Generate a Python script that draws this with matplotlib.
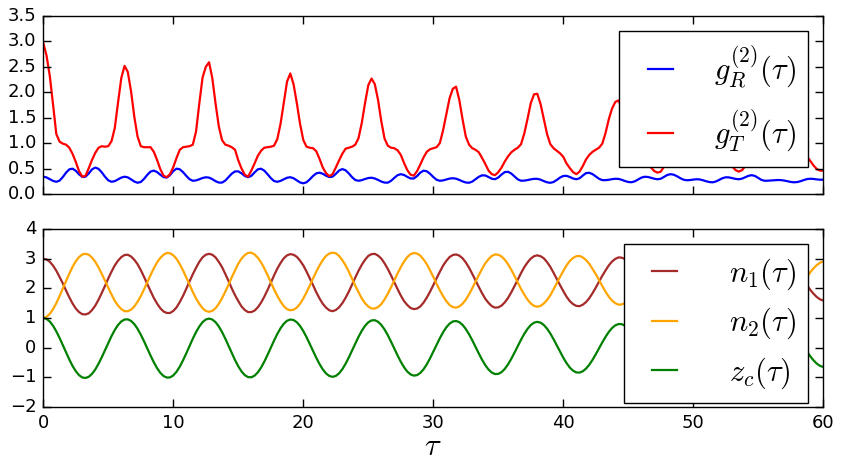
import numpy as np
import matplotlib
matplotlib.use('Agg')
import matplotlib.pyplot as plt
from matplotlib.lines import Line2D
from matplotlib.legend_handler import HandlerLine2D

plt.style.use('classic')
plt.rcParams['mathtext.fontset'] = 'cm'
plt.rcParams['font.family'] = ['DejaVu Sans']

# ── Data (tau step 0.25) ────────────────────────────────────────────────────
tau = np.linspace(0, 60, 241)

g_T = [
    2.97, 2.72, 2.32, 1.76, 1.18, 1.03, 0.99, 0.97, 0.91, 0.79, 0.63, 0.45, 0.34, 0.36, 0.51, 0.67, 0.81, 0.91, 0.94, 0.93,
    0.94, 1.04, 1.30, 1.80, 2.28, 2.52, 2.40, 2.02, 1.52, 1.13, 0.94, 0.92, 0.92, 0.92, 0.83, 0.67, 0.49, 0.36, 0.33, 0.39,
    0.53, 0.71, 0.87, 0.92, 0.93, 0.94, 0.97, 1.23, 1.78, 2.29, 2.50, 2.59, 2.28, 1.78, 1.33, 1.06, 0.97, 0.95, 0.92, 0.87,
    0.66, 0.50, 0.38, 0.34, 0.46, 0.60, 0.75, 0.85, 0.91, 0.92, 0.93, 0.95, 1.08, 1.38, 1.79, 2.21, 2.37, 2.16, 1.79, 1.38,
    1.06, 0.93, 0.91, 0.90, 0.84, 0.69, 0.52, 0.41, 0.35, 0.39, 0.52, 0.66, 0.79, 0.89, 0.91, 0.93, 0.97, 1.10, 1.40, 1.79,
    2.14, 2.27, 2.16, 1.85, 1.43, 1.09, 0.95, 0.91, 0.90, 0.86, 0.77, 0.61, 0.47, 0.38, 0.36, 0.45, 0.58, 0.72, 0.83, 0.88,
    0.90, 0.92, 1.00, 1.25, 1.57, 1.88, 2.07, 2.11, 1.85, 1.47, 1.13, 0.97, 0.90, 0.87, 0.82, 0.71, 0.59, 0.46, 0.39, 0.37,
    0.43, 0.52, 0.64, 0.74, 0.82, 0.87, 0.91, 0.98, 1.19, 1.48, 1.79, 1.96, 1.97, 1.77, 1.47, 1.18, 0.98, 0.90, 0.85, 0.80,
    0.73, 0.60, 0.51, 0.43, 0.39, 0.44, 0.55, 0.68, 0.77, 0.83, 0.87, 0.91, 0.99, 1.20, 1.47, 1.68, 1.81, 1.84, 1.70, 1.42,
    1.15, 0.96, 0.88, 0.84, 0.78, 0.70, 0.62, 0.52, 0.45, 0.42, 0.44, 0.54, 0.64, 0.74, 0.82, 0.86, 0.89, 0.96, 1.15, 1.40,
    1.60, 1.72, 1.74, 1.62, 1.38, 1.13, 0.96, 0.88, 0.84, 0.78, 0.71, 0.64, 0.54, 0.47, 0.44, 0.47, 0.55, 0.64, 0.73, 0.80,
    0.85, 0.88, 0.94, 1.10, 1.32, 1.50, 1.60, 1.63, 1.58, 1.40, 1.18, 0.99, 0.89, 0.85, 0.80, 0.73, 0.65, 0.56, 0.49, 0.46,
    0.46,
]

g_R = [
    0.340, 0.326, 0.292, 0.257, 0.240, 0.263, 0.333, 0.420, 0.485, 0.498, 0.456, 0.387, 0.337, 0.340, 0.405, 0.485, 0.520, 0.494, 0.425, 0.339,
    0.268, 0.240, 0.253, 0.287, 0.322, 0.340, 0.327, 0.288, 0.245, 0.221, 0.236, 0.297, 0.377, 0.441, 0.460, 0.432, 0.379, 0.333, 0.322, 0.372,
    0.451, 0.499, 0.485, 0.430, 0.356, 0.291, 0.260, 0.267, 0.289, 0.315, 0.329, 0.322, 0.292, 0.252, 0.225, 0.224, 0.264, 0.332, 0.401, 0.444,
    0.445, 0.406, 0.355, 0.330, 0.356, 0.424, 0.485, 0.497, 0.460, 0.389, 0.313, 0.255, 0.240, 0.258, 0.290, 0.320, 0.330, 0.310, 0.268, 0.227,
    0.210, 0.231, 0.288, 0.355, 0.406, 0.419, 0.398, 0.360, 0.333, 0.341, 0.396, 0.461, 0.490, 0.467, 0.405, 0.331, 0.275, 0.260, 0.272, 0.295,
    0.314, 0.320, 0.305, 0.277, 0.245, 0.224, 0.223, 0.259, 0.317, 0.370, 0.390, 0.374, 0.337, 0.306, 0.305, 0.352, 0.420, 0.459, 0.447, 0.398,
    0.334, 0.280, 0.260, 0.267, 0.285, 0.303, 0.310, 0.301, 0.277, 0.248, 0.226, 0.221, 0.244, 0.290, 0.338, 0.367, 0.364, 0.334, 0.300, 0.291,
    0.324, 0.383, 0.431, 0.437, 0.402, 0.344, 0.288, 0.261, 0.263, 0.274, 0.288, 0.298, 0.298, 0.282, 0.254, 0.230, 0.220, 0.236, 0.277, 0.324,
    0.355, 0.357, 0.335, 0.305, 0.290, 0.309, 0.363, 0.411, 0.417, 0.391, 0.345, 0.299, 0.273, 0.272, 0.280, 0.292, 0.299, 0.297, 0.279, 0.255,
    0.236, 0.231, 0.249, 0.285, 0.321, 0.339, 0.335, 0.319, 0.300, 0.290, 0.300, 0.336, 0.374, 0.390, 0.379, 0.349, 0.311, 0.281, 0.270, 0.274,
    0.284, 0.290, 0.286, 0.270, 0.250, 0.234, 0.230, 0.247, 0.279, 0.311, 0.329, 0.326, 0.312, 0.297, 0.290, 0.302, 0.330, 0.358, 0.370, 0.354,
    0.315, 0.276, 0.260, 0.262, 0.267, 0.272, 0.275, 0.273, 0.264, 0.250, 0.237, 0.230, 0.235, 0.252, 0.274, 0.293, 0.300, 0.296, 0.287, 0.281,
    0.281,
]

n_1 = [
    3.00, 2.98, 2.90, 2.77, 2.60, 2.39, 2.17, 1.93, 1.70, 1.49, 1.32, 1.20, 1.13, 1.12, 1.16, 1.27, 1.42, 1.62, 1.85, 2.09,
    2.34, 2.57, 2.78, 2.94, 3.06, 3.13, 3.14, 3.08, 2.97, 2.82, 2.62, 2.39, 2.15, 1.91, 1.68, 1.49, 1.33, 1.22, 1.17, 1.17,
    1.24, 1.36, 1.54, 1.75, 1.99, 2.24, 2.48, 2.70, 2.90, 3.05, 3.14, 3.17, 3.14, 3.05, 2.90, 2.72, 2.49, 2.25, 2.00, 1.77,
    1.57, 1.39, 1.27, 1.20, 1.20, 1.25, 1.36, 1.52, 1.72, 1.95, 2.19, 2.44, 2.67, 2.86, 3.02, 3.12, 3.16, 3.14, 3.07, 2.94,
    2.78, 2.57, 2.34, 2.11, 1.87, 1.66, 1.48, 1.35, 1.26, 1.23, 1.27, 1.36, 1.50, 1.68, 1.89, 2.13, 2.37, 2.60, 2.80, 2.97,
    3.10, 3.16, 3.17, 3.11, 3.01, 2.85, 2.66, 2.44, 2.21, 1.98, 1.76, 1.57, 1.44, 1.34, 1.30, 1.32, 1.39, 1.52, 1.69, 1.89,
    2.11, 2.34, 2.56, 2.77, 2.93, 3.06, 3.13, 3.15, 3.11, 3.02, 2.88, 2.70, 2.49, 2.27, 2.05, 1.84, 1.65, 1.51, 1.40, 1.35,
    1.36, 1.42, 1.53, 1.68, 1.87, 2.08, 2.30, 2.52, 2.72, 2.88, 3.01, 3.09, 3.12, 3.09, 3.02, 2.89, 2.73, 2.53, 2.32, 2.11,
    1.91, 1.72, 1.57, 1.47, 1.41, 1.40, 1.45, 1.54, 1.67, 1.84, 2.03, 2.23, 2.43, 2.61, 2.78, 2.91, 3.00, 3.05, 3.04, 2.99,
    2.89, 2.75, 2.59, 2.40, 2.20, 2.01, 1.83, 1.68, 1.57, 1.49, 1.47, 1.49, 1.56, 1.67, 1.82, 1.99, 2.17, 2.36, 2.54, 2.70,
    2.84, 2.93, 2.98, 2.99, 2.95, 2.86, 2.74, 2.59, 2.42, 2.24, 2.06, 1.90, 1.75, 1.64, 1.56, 1.53, 1.54, 1.60, 1.69, 1.82,
    1.97, 2.14, 2.32, 2.49, 2.64, 2.77, 2.86, 2.92, 2.93, 2.90, 2.83, 2.73, 2.60, 2.44, 2.28, 2.11, 1.95, 1.82, 1.71, 1.63,
    1.59,
]

n_2 = [
    1.00, 1.04, 1.14, 1.30, 1.50, 1.74, 2.00, 2.25, 2.50, 2.73, 2.92, 3.06, 3.15, 3.17, 3.14, 3.04, 2.90, 2.71, 2.49, 2.26,
    2.02, 1.79, 1.58, 1.42, 1.30, 1.23, 1.23, 1.28, 1.39, 1.55, 1.74, 1.97, 2.21, 2.45, 2.68, 2.88, 3.03, 3.14, 3.20, 3.19,
    3.12, 3.00, 2.82, 2.61, 2.37, 2.13, 1.88, 1.66, 1.48, 1.33, 1.24, 1.21, 1.24, 1.33, 1.48, 1.67, 1.89, 2.13, 2.38, 2.61,
    2.84, 3.01, 3.13, 3.20, 3.21, 3.15, 3.04, 2.88, 2.68, 2.45, 2.21, 1.97, 1.75, 1.56, 1.40, 1.30, 1.26, 1.28, 1.35, 1.48,
    1.66, 1.87, 2.10, 2.34, 2.57, 2.78, 2.96, 3.10, 3.18, 3.21, 3.19, 3.10, 2.96, 2.78, 2.57, 2.33, 2.09, 1.87, 1.66, 1.50,
    1.39, 1.32, 1.32, 1.37, 1.47, 1.63, 1.82, 2.04, 2.27, 2.51, 2.72, 2.91, 3.06, 3.16, 3.20, 3.18, 3.11, 2.98, 2.82, 2.61,
    2.39, 2.16, 1.94, 1.74, 1.57, 1.44, 1.37, 1.35, 1.39, 1.48, 1.62, 1.80, 2.01, 2.23, 2.45, 2.66, 2.85, 2.99, 3.10, 3.15,
    3.14, 3.08, 2.97, 2.82, 2.63, 2.42, 2.20, 1.98, 1.79, 1.62, 1.49, 1.41, 1.38, 1.41, 1.49, 1.61, 1.77, 1.97, 2.18, 2.39,
    2.59, 2.78, 2.93, 3.03, 3.09, 3.10, 3.05, 2.96, 2.83, 2.66, 2.48, 2.28, 2.08, 1.89, 1.72, 1.59, 1.50, 1.45, 1.46, 1.51,
    1.61, 1.75, 1.92, 2.10, 2.30, 2.49, 2.67, 2.82, 2.93, 3.01, 3.03, 3.01, 2.94, 2.83, 2.68, 2.51, 2.33, 2.14, 1.96, 1.80,
    1.66, 1.57, 1.52, 1.51, 1.55, 1.64, 1.76, 1.91, 2.08, 2.26, 2.44, 2.61, 2.75, 2.86, 2.94, 2.97, 2.96, 2.90, 2.81, 2.68,
    2.53, 2.36, 2.18, 2.01, 1.86, 1.73, 1.64, 1.58, 1.57, 1.60, 1.67, 1.77, 1.91, 2.06, 2.22, 2.39, 2.55, 2.68, 2.79, 2.87,
    2.91,
]

z_c = [
    1.000, 0.970, 0.880, 0.737, 0.549, 0.327, 0.085, -0.164, -0.403, -0.620, -0.800, -0.933, -1.011, -1.029, -0.987, -0.888, -0.739, -0.547, -0.324, -0.084,
    0.159, 0.390, 0.596, 0.764, 0.884, 0.949, 0.955, 0.902, 0.793, 0.635, 0.437, 0.211, -0.030, -0.271, -0.497, -0.695, -0.853, -0.962, -1.015, -1.009,
    -0.942, -0.817, -0.644, -0.431, -0.194, 0.055, 0.299, 0.523, 0.712, 0.859, 0.949, 0.980, 0.949, 0.859, 0.714, 0.525, 0.302, 0.059, -0.188, -0.424,
    -0.635, -0.808, -0.932, -0.999, -1.005, -0.951, -0.840, -0.678, -0.477, -0.248, -0.006, 0.235, 0.460, 0.654, 0.806, 0.907, 0.949, 0.931, 0.857, 0.730,
    0.558, 0.351, 0.122, -0.115, -0.347, -0.559, -0.739, -0.875, -0.961, -0.990, -0.960, -0.873, -0.734, -0.551, -0.336, -0.102, 0.137, 0.365, 0.569, 0.735,
    0.855, 0.919, 0.925, 0.873, 0.767, 0.612, 0.419, 0.199, -0.033, -0.265, -0.480, -0.666, -0.812, -0.908, -0.949, -0.932, -0.858, -0.734, -0.565, -0.363,
    -0.140, 0.090, 0.313, 0.515, 0.684, 0.808, 0.882, 0.899, 0.860, 0.768, 0.628, 0.450, 0.244, 0.022, -0.200, -0.411, -0.596, -0.744, -0.846, -0.896,
    -0.890, -0.831, -0.720, -0.567, -0.379, -0.169, 0.051, 0.267, 0.465, 0.632, 0.763, 0.843, 0.870, 0.843, 0.765, 0.640, 0.477, 0.284, 0.074, -0.139,
    -0.344, -0.526, -0.676, -0.782, -0.840, -0.846, -0.802, -0.711, -0.579, -0.414, -0.225, -0.025, 0.175, 0.364, 0.529, 0.661, 0.752, 0.796, 0.791, 0.738,
    0.640, 0.503, 0.335, 0.147, -0.049, -0.242, -0.419, -0.568, -0.684, -0.756, -0.780, -0.757, -0.687, -0.577, -0.432, -0.262, -0.077, 0.112, 0.293, 0.454,
    0.586, 0.680, 0.731, 0.736, 0.696, 0.613, 0.493, 0.343, 0.172, -0.008, -0.188, -0.355, -0.500, -0.613, -0.688, -0.719, -0.706, -0.651, -0.556, -0.429,
    -0.276, -0.107, 0.067, 0.236, 0.389, 0.516, 0.611, 0.666, 0.679, 0.650, 0.582, 0.478, 0.345, 0.191, 0.027, -0.139, -0.296, -0.433, -0.544, -0.620,
    -0.657,
]

# ── Figure ───────────────────────────────────────────────────────────────────
W, H = 844, 466
fig = plt.figure(figsize=(W / 100, H / 100), dpi=100, facecolor='white')
ax1 = fig.add_axes([43.3 / W, 1 - 194.0 / H, 780 / W, 178.0 / H])
ax2 = fig.add_axes([43.3 / W, 1 - 406.7 / H, 780 / W, 177.4 / H])

ax1.plot(tau, g_R, color='#0000ff', lw=1.6, label=r'$g_R^{(2)}(\tau)$')
ax1.plot(tau, g_T, color='#ff0000', lw=1.6, label=r'$g_T^{(2)}(\tau)$')

ax2.plot(tau, n_1, color='#a52a2a', lw=1.6, label=r'$n_1(\tau)$')
ax2.plot(tau, n_2, color='#ffa500', lw=1.6, label=r'$n_2(\tau)$')
ax2.plot(tau, z_c, color='#008000', lw=1.6, label=r'$z_c(\tau)$')

for ax in (ax1, ax2):
    ax.set_xlim(0, 60)
    ax.set_xticks([0, 10, 20, 30, 40, 50, 60])
    ax.tick_params(direction='in', top=True, right=True, length=5.5,
                   width=1, labelsize=13, pad=5)
    ax.set_facecolor('white')

ax1.set_ylim(0, 3.5)
ax1.set_yticks(np.arange(0, 3.6, 0.5))
ax1.tick_params(labelbottom=False)

ax2.set_ylim(-2, 4)
ax2.set_yticks(range(-2, 5))
ax2.set_xlabel(r'$\tau$', fontsize=22, labelpad=0)

# legend: short handle line with a little space before it
hmap = {Line2D: HandlerLine2D(xpad=0.23)}
leg_kw = dict(loc='upper right', fontsize=22, frameon=True, fancybox=False,
              framealpha=1, edgecolor='black', handlelength=1.65,
              borderaxespad=0.49, borderpad=0.41, handler_map=hmap)
l1 = ax1.legend(handletextpad=1.05, labelspacing=0.58, **leg_kw)
l2 = ax2.legend(handletextpad=1.38, labelspacing=0.45, **leg_kw)
for lg in (l1, l2):
    lg.get_frame().set_linewidth(1.0)

plt.savefig('out.png', dpi=100, facecolor='white')
